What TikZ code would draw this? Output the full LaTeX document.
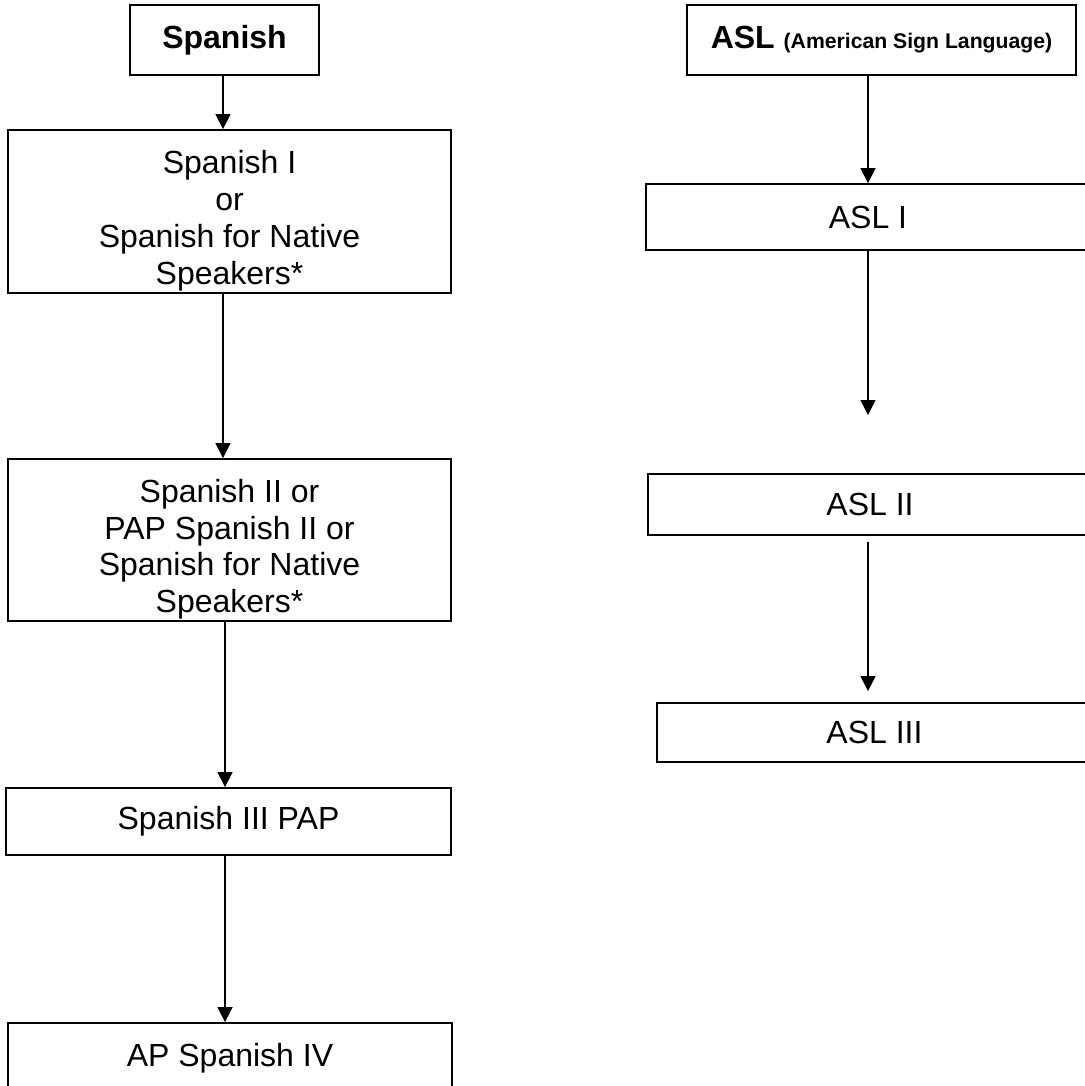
\documentclass[tikz,border=0pt]{standalone}
\usepackage{fontspec}
\setmainfont{Liberation Sans}
\usetikzlibrary{arrows.meta,calc,positioning}
\newcommand{\lowstrut}{\rule{0pt}{17.5pt}}
\tikzset{
coursebox/.style={
  rectangle,
  line width=0.9pt,
  inner sep=0pt,
  align=center,
  draw=black,
  font=\fontsize{16}{18.4}\selectfont,
  }
}
\tikzset{
lowtext/.style={
  text depth=0pt
  }
}
\tikzset{
myline/.style={
  line width=0.75pt,
  -{Triangle[length=7.5pt,width=7.5pt]}
  }
}

\begin{document}
\begin{tikzpicture}[x=0.5pt,y=-0.5pt]
    \useasboundingbox (0,0) rectangle (1085,1086);
    \path[fill=white] (0,0) rectangle (1085,1086);

    % spanish part
    \node[coursebox, minimum width=94.5pt, minimum height=35pt] (sp_head) at (224.5,40) {\textbf{Spanish}};
    \node[coursebox, lowtext, minimum width=221.5pt, minimum height=81.5pt] (sp_1) at (229.5,211.5) {\lowstrut Spanish I\\or\\Spanish for Native\\Speakers*};
    \node[coursebox, lowtext, minimum width=221.5pt, minimum height=81pt] (sp_2) at (229.5,540) {\lowstrut Spanish II or\\PAP Spanish II or\\Spanish for Native\\Speakers*};
    \node[coursebox, minimum width=222.5pt, minimum height=33.5pt] (sp_3) at (228.5,821.5) {Spanish III PAP};
    \node[coursebox, minimum width=222pt, minimum height=35pt] (sp_4) at (230,1058) {AP Spanish IV};

    % asl part
    \node[coursebox, minimum width=194.5pt, minimum height=35pt] (asl_head) at (881.5,40) {\textbf{ASL} {\fontsize{10.6}{12}\selectfont\textbf{(American Sign Language)}}};
    \node[coursebox, minimum width=222pt, minimum height=33pt] (asl_1) at (868,217) {ASL I};
    \node[coursebox, minimum width=222pt, minimum height=30.5pt] (asl_2) at (870,504.5) {ASL II};
    \node[coursebox, minimum width=217.5pt, minimum height=29.5pt] (asl_3) at (874.5,732.5) {ASL III};
    \coordinate (asl_gap) at (868,415);

    % spanish edges
    \draw[myline] (sp_head.south -| 223,0) -- (sp_1.north -| 223,0);
    \draw[myline] (sp_1.south -| 223,0) -- (sp_2.north -| 223,0);
    \draw[myline] (sp_2.south -| 225,0) -- (sp_3.north -| 225,0);
    \draw[myline] (sp_3.south -| 225,0) -- (sp_4.north -| 225,0);

    % asl edges
    \draw[myline] (asl_head.south -| asl_1.north) -- (asl_1.north);
    \draw[myline] (asl_1.south) -- (asl_gap);
    \draw[myline, shorten <=3pt, shorten >=5.5pt] (asl_2.south -| asl_gap) -- (asl_3.north -| asl_gap);
\end{tikzpicture}
\end{document}
